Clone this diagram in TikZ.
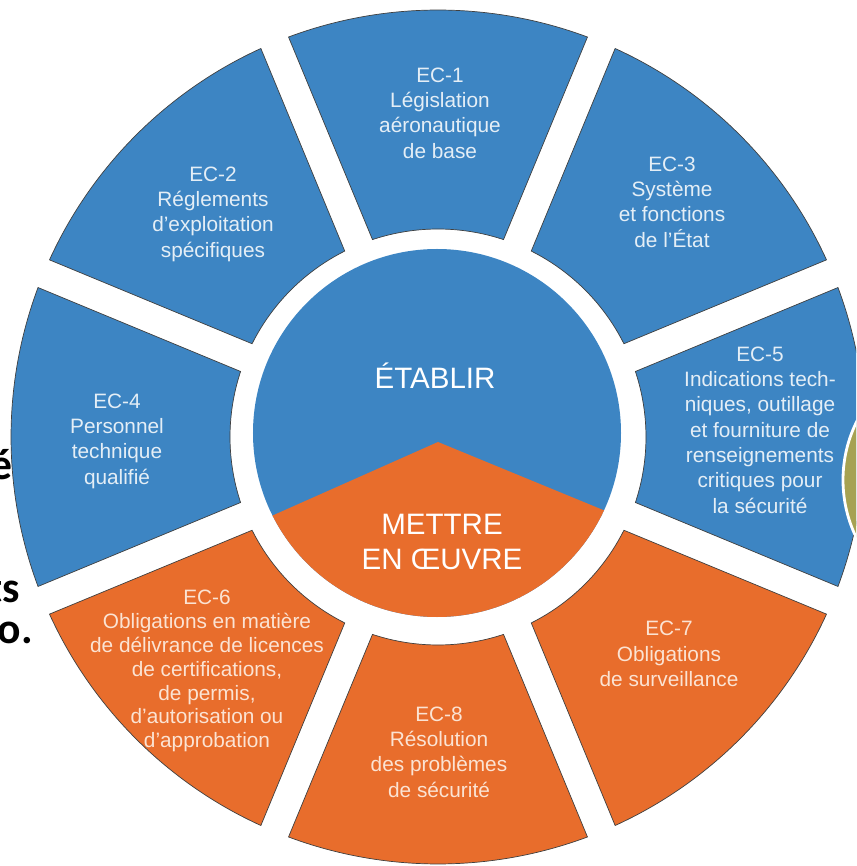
\documentclass[tikz,border=0pt]{standalone}
\usepackage{fontspec}
\setmainfont{Liberation Sans}
\newfontfamily\grasfont{Carlito}
\usetikzlibrary{positioning}
\definecolor{bleuEC}{HTML}{3D85C3}
\definecolor{orangeEC}{HTML}{E86D2C}
\definecolor{texteBleu}{HTML}{E4EEF6}
\definecolor{texteOrange}{HTML}{FBE3D3}
\definecolor{oliveEC}{HTML}{A6A252}
\tikzstyle{secteur} = [draw=black!75, line width=0.5pt]
\tikzstyle{etiquette} = [align=center, inner sep=0pt, font=\fontsize{14.8}{18}\selectfont]
\tikzstyle{titrecentre} = [align=center, inner sep=0pt, text=white, font=\fontsize{21}{25}\selectfont]
\tikzstyle{fragment} = [inner sep=0pt, font=\grasfont\bfseries\fontsize{31}{37}\selectfont]

\begin{document}
\begin{tikzpicture}[x=0.025cm, y=0.025cm]
	\useasboundingbox (-438,-429) rectangle (418,437);
	\clip (-438,-429) rectangle (418,437);
	\fill[white] (-438,-429) rectangle (418,437);
	% les huit secteurs
	\foreach \a/\c in {90/bleuEC, 45/bleuEC, 0/bleuEC, 135/bleuEC, 180/bleuEC, -45/orangeEC, -90/orangeEC, -135/orangeEC}
		\path[secteur, fill=\c] (\a-20.49:427) arc[start angle=\a-20.49, end angle=\a+20.49, radius=427]
			-- (\a+18.36:208) arc[start angle=\a+18.36, end angle=\a-18.36, radius=208] -- cycle;
	% bouts de texte coupes au bord gauche
	\node[fragment, anchor=base east] (bout1) at (-425,-43) {é};
	\node[fragment, anchor=base east] (bout2) at (-418,-165) {ts};
	\node[fragment, anchor=base east] (bout3) at (-405,-206) {o.};
	% disque central
	\fill[bleuEC] (-1,4) circle (184);
	\begin{scope}
		\clip (-1,4) circle (184);
		\fill[orangeEC] (0,-5) -- (-252,-117) -- (-252,-200) -- (255,-200) -- (255,-110) -- cycle;
	\end{scope}
	\node[titrecentre] (etablir) at (-3,61) {ÉTABLIR};
	\node[titrecentre] (mettre) at (4,-105) {METTRE\\EN ŒUVRE};
	% textes des secteurs
	\node[etiquette, text=texteBleu] (ec1) at (2,324) {EC-1\\Législation\\aéronautique\\de base};
	\node[etiquette, text=texteBleu] (ec2) at (-225,223) {EC-2\\Réglements\\d'exploitation\\spécifiques};
	\node[etiquette, text=texteBleu] (ec3) at (234,235) {EC-3\\Système\\et fonctions\\de l'État};
	\node[etiquette, text=texteBleu] (ec4) at (-321,-4) {EC-4\\Personnel\\technique\\qualifié};
	\node[etiquette, text=texteBleu] (ec5) at (322,7) {EC-5\\Indications tech-\\niques, outillage\\et fourniture de\\renseignements\\critiques pour\\la sécurité};
	\node[etiquette, text=texteOrange, font=\fontsize{14.8}{17}\selectfont] (ec6) at (-231,-234) {EC-6\\Obligations en matière\\de délivrance de licences\\de certifications,\\de permis,\\d’autorisation ou\\d’approbation};
	\node[etiquette, text=texteOrange] (ec7) at (231,-217) {EC-7\\Obligations\\de surveillance};
	\node[etiquette, text=texteOrange] (ec8) at (1,-315) {EC-8\\Résolution\\des problèmes\\de sécurité};
	% disque olive coupe au bord droit
	\draw[white, line width=2pt, fill=oliveEC] (536,-43) circle (131);
\end{tikzpicture}
\end{document}
